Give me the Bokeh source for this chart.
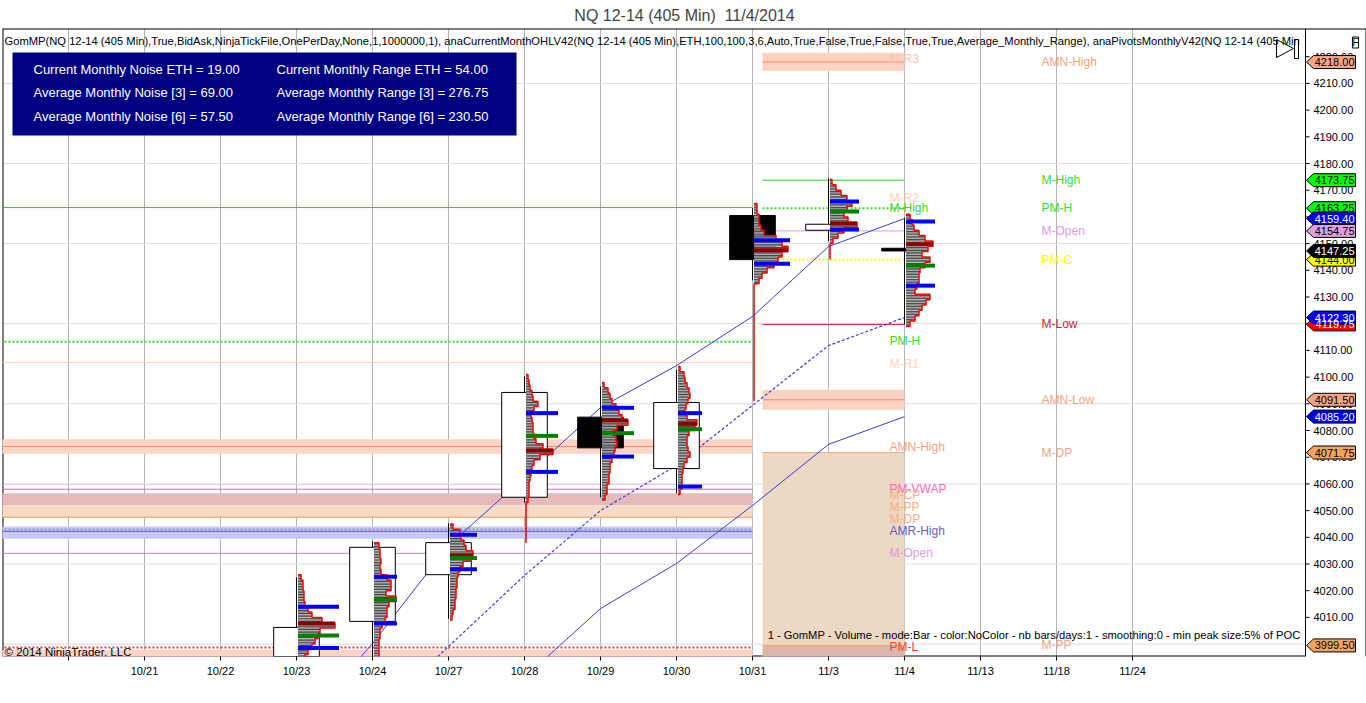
import math
from bokeh.plotting import figure
from bokeh.models import (FixedTicker, Label, NumeralTickFormatter, Range1d)
from bokeh.core.properties import value
from bokeh.embed import file_html
from bokeh.resources import INLINE

FONT = "Liberation Sans"

# ---------------- data ----------------
slot_labels = ["", "10/21", "10/22", "10/23", "10/24", "10/27", "10/28", "10/29",
               "10/30", "10/31", "11/3", "11/4", "11/13", "11/18", "11/24"]

bar_slot = [3, 4, 5, 6, 7, 8, 9, 10, 11]
bar_open = [3990.00, 4008.50, 4026.00, 4055.00, 4085.00, 4065.75, 4160.50, 4155.00, 4148.25]
bar_high = [4025.00, 4038.50, 4045.25, 4100.25, 4096.50, 4102.75, 4163.25, 4174.50, 4159.75]
bar_low = [3985.00, 3992.00, 4009.50, 4053.00, 4055.00, 4056.50, 4136.25, 4151.00, 4119.75]
bar_close = [4006.25, 4036.25, 4038.00, 4094.25, 4073.50, 4090.50, 4144.00, 4157.25, 4147.25]

price_ticks = list(range(4010, 4230, 10))
grid_prices = [4000, 4030, 4060, 4090, 4120, 4150, 4180, 4210]

# volume profiles (volume per 2-point level, starting at the given low price)
prof_step = 2.0
prof_1023_low = 3995
prof_1023 = [7, 10, 14, 17, 20, 22, 37, 24, 14, 10, 7, 6, 6, 5, 5, 3]
prof_1024_low = 3995
prof_1024 = [5, 5, 5, 5, 6, 6, 8, 11, 13, 13, 15, 22, 12, 17, 17, 13, 7, 6, 7, 6, 6, 5]
prof_1027_low = 4010
prof_1027 = [2, 3, 5, 5, 6, 6, 7, 7, 8, 10, 13, 21, 23, 16, 14, 11, 10, 3]
prof_1028_low = 4054
prof_1028 = [2, 3, 3, 3, 4, 5, 6, 8, 14, 27, 17, 10, 8, 7, 7, 6, 5, 8, 12, 7, 6, 4, 3, 2]
prof_1029_low = 4055
prof_1029 = [3, 5, 5, 7, 7, 8, 8, 10, 12, 13, 15, 14, 11, 15, 26, 20, 17, 14, 10, 8, 6, 2]
prof_1030_low = 4057
prof_1030 = [2, 4, 4, 4, 5, 6, 9, 12, 10, 9, 9, 11, 17, 19, 9, 7, 8, 10, 12, 11, 9, 7, 6, 2]
prof_1031_low = 4136
prof_1031 = [5, 8, 13, 20, 24, 28, 34, 28, 22, 10, 7, 5, 5, 3, 3]
prof_1103_low = 4151
prof_1103 = [3, 8, 14, 27, 18, 14, 17, 22, 17, 11, 6, 2]
prof_1104_low = 4120
prof_1104 = [4, 9, 13, 16, 20, 24, 9, 11, 13, 13, 14, 19, 24, 16, 22, 27, 19, 13, 8, 6, 4]

prof_slot = [3, 4, 5, 6, 7, 8, 9, 10, 11]
prof_lows = [prof_1023_low, prof_1024_low, prof_1027_low, prof_1028_low, prof_1029_low,
             prof_1030_low, prof_1031_low, prof_1103_low, prof_1104_low]
prof_vols = [prof_1023, prof_1024, prof_1027, prof_1028, prof_1029,
             prof_1030, prof_1031, prof_1103, prof_1104]
tail_slot = [6, 9, 10]
tail_low = [4038.0, 4091.0, 4144.0]

va_high = [4014.00, 4025.25, 4041.00, 4086.50, 4088.50, 4086.50, 4151.25, 4165.75, 4158.25]
va_low = [3998.50, 4007.75, 4028.00, 4064.50, 4070.25, 4059.00, 4142.50, 4155.25, 4134.25]
vwap = [4003.25, 4016.75, 4032.25, 4078.00, 4079.00, 4080.50, float("nan"), 4162.00, 4141.75]
poc = [4007.75, 4016.75, 4033.25, 4072.50, 4083.75, 4082.50, 4147.50, 4157.50, 4149.75]
marker_vol = [41, 23, 27, 32, 32, 24, 36, 29, 29]

# channel lines
ma_fast_slot = [3, 4, 5, 6, 7, 8, 9, 10, 11]
ma_fast = [3968.0, 4000.2, 4036.9, 4062.4, 4088.6, 4104.3, 4122.7, 4148.9, 4159.4]
ma_mid_slot = [4, 5, 6, 7, 8, 9, 10, 11]
ma_mid = [3972.0, 3999.1, 4025.7, 4050.0, 4066.9, 4089.4, 4111.8, 4122.3]
ma_slow_slot = [6, 7, 8, 9, 10, 11]
ma_slow = [3987.5, 4013.3, 4030.2, 4051.9, 4074.8, 4085.2]

# prior-month (October) levels
oct_line_price = [4163.50, 4113.25, 4105.50, 4074.00, 4059.75, 4058.00, 4047.50,
                  4043.00, 4042.25, 4034.00, 3998.75]
oct_band_low = [4071.25, 4052.00, 4047.50, 4039.50, 3993.00]
oct_band_high = [4076.75, 4056.50, 4052.00, 4044.00, 3997.75]
# current month (November) levels
nov_line_price = [4218.00, 4173.75, 4163.25, 4154.75, 4144.00, 4119.75, 4091.50, 4071.75, 3999.50]
nov_band_low = [4214.75, 4087.75, 3999.50, 3990.00]
nov_band_high = [4221.50, 4095.25, 4071.75, 3999.50]

label1_text = ["M-R3", "M-R2", "M-High", "PM-H", "M-R1", "AMN-High", "PM-VWAP", "M-CP",
               "M-PP", "M-DP", "AMR-High", "M-Open", "PM-L"]
label1_price = [4219.0, 4167.25, 4163.25, 4113.5, 4105.0, 4074.0, 4058.0, 4056.0,
                4051.5, 4047.0, 4042.25, 4034.0, 3998.75]
label2_text = ["AMN-High", "M-High", "PM-H", "M-Open", "PM-C", "M-Low", "AMN-Low", "M-DP", "M-PP"]
label2_price = [4218.0, 4173.75, 4163.25, 4154.75, 4144.0, 4119.75, 4091.5, 4071.75, 3999.5]

tag_price = [4218.00, 4173.75, 4163.25, 4159.40, 4154.75, 4144.00, 4147.25,
             4119.75, 4122.30, 4091.50, 4085.20, 4071.75, 3999.50]

info_rows = [("Current Monthly Noise ETH = 19.00", "Current Monthly Range ETH = 54.00"),
             ("Average Monthly Noise [3] = 69.00", "Average Monthly Range [3] = 276.75"),
             ("Average Monthly Noise [6] = 57.50", "Average Monthly Range [6] = 230.50")]

# ---------------- styles ----------------
oct_line_style = [("#22d022", "solid", 1), ("#33dd33", "2 2", 2), ("#f9d2b8", "solid", 1),
                  ("#f08c70", "solid", 1), ("#d9cdf2", "solid", 1), ("#c86ec8", "solid", 1),
                  ("#f0a050", "solid", 1), ("#a0a0a8", "2 2", 2), ("#5252e0", "solid", 1),
                  ("#b890c8", "solid", 1), ("#ff3b3b", "2 2", 2)]
oct_band_color = ["#fcd5c6", "#e6baba", "#f6dcc8", "#c9c9f7", "#fcd3c6"]
nov_line_style = [("#f08c70", "solid", 1), ("#22d022", "solid", 1), ("#33dd33", "2 2", 2),
                  ("#d8a0d8", "solid", 1), ("#ffff00", "2 2", 2), ("#dc143c", "solid", 1),
                  ("#f08c70", "solid", 1), ("#e6b48c", "solid", 1), ("#f4a460", "solid", 1)]
nov_band_color = ["#fcd2c2", "#fcd2c2", "#ecd8c4", "#ddb4aa"]
label1_color = ["#f9c4b0", "#fcd0b0", "#33dd33", "#33dd33", "#f9d4c0", "#f4a582", "#ff69b4",
                "#f4b080", "#f4b080", "#f4b080", "#6a5acd", "#d8a0d8", "#ff4020"]
label2_color = ["#f4a582", "#33dd33", "#33dd33", "#d8a0d8", "#ffff00", "#dc143c", "#f4a582",
                "#f4a582", "#f4a582"]
tag_fill = ["#f4a582", "#00ff00", "#00ff00", "#0000ff", "#dda0dd", "#ffff00", "#000000",
            "#ff0000", "#0000ff", "#f4a582", "#0000ff", "#f4a460", "#f4a460"]
tag_text = ["black", "black", "black", "white", "black", "black", "white",
            "white", "white", "black", "white", "black", "black"]


# ---------------- geometry helpers (reference pixels -> data) ----------------
def X(px):
    return (px - 68.0) / 76.0


def P(py):
    return 4180.0 - (py - 163.0) / 2.67


PXS = 1.0 / 76.0      # slot units per pixel
PTS = 1.0 / 2.67      # price per pixel
W, H = 1366, 703
AX = 1305             # price-axis line position (pixels)

p = figure(width=W, height=H, x_range=Range1d(X(2), X(W)),
           y_range=Range1d(P(656), P(28)), y_axis_location="right",
           output_backend="svg", toolbar_location=None,
           min_border_left=2, min_border_right=0, min_border_top=28, min_border_bottom=47,
           title="NQ 12-14 (405 Min)\u00a0 11/4/2014")
p.title.align = "center"
p.title.vertical_align = "top"
p.title.text_font = FONT
p.title.text_font_size = "16px"
p.title.text_font_style = "normal"
p.title.standoff = 6
p.title.offset = 0
p.outline_line_color = None
p.background_fill_color = "white"
p.border_fill_color = "white"

p.xgrid.ticker = FixedTicker(ticks=list(range(len(slot_labels))))
p.xgrid.grid_line_color = "#b4b4b4"
p.ygrid.grid_line_color = None

p.xaxis.ticker = FixedTicker(ticks=list(range(len(slot_labels))))
p.xaxis.major_label_overrides = {i: s for i, s in enumerate(slot_labels)}
p.xaxis.minor_tick_line_color = None
p.xaxis.major_tick_in = 0
p.xaxis.major_tick_out = 4
p.xaxis.axis_line_color = None
p.xaxis.major_tick_line_color = "black"
p.xaxis.major_label_text_font = FONT
p.xaxis.major_label_text_font_size = "11px"
p.xaxis.major_label_text_color = "black"
p.xaxis.major_label_standoff = 4

# price axis: labels pulled back into the chart so the price tags can cover them
p.yaxis.ticker = FixedTicker(ticks=price_ticks)
p.yaxis.formatter = NumeralTickFormatter(format="0.00")
p.yaxis.minor_tick_line_color = None
p.yaxis.major_tick_in = 0
p.yaxis.major_tick_out = 0
p.yaxis.axis_line_color = None
p.yaxis.major_tick_line_color = None
p.yaxis.major_label_text_font = FONT
p.yaxis.major_label_text_font_size = "11px"
p.yaxis.major_label_text_color = "black"
p.yaxis.major_label_standoff = -(W - (AX + 8))
p.yaxis.level = "underlay"

# horizontal grid, chart borders, axis lines and ticks
p.segment(x0=X(2), x1=X(AX), y0=grid_prices, y1=grid_prices, line_color="#dcdcdc", line_width=1)
p.segment(x0=[X(2), X(2), X(W), X(2), X(AX)],
          x1=[X(W), X(2), X(W), X(AX), X(AX)],
          y0=[P(28), P(28), P(28), P(656), P(656)],
          y1=[P(28), P(656), P(656), P(656), P(28)],
          line_color="black", line_width=[2, 2, 2, 2, 1])
p.segment(x0=X(AX), x1=X(AX + 4), y0=price_ticks, y1=price_ticks, line_color="black", line_width=1)

OCT_L, OCT_R = X(-40), X(752)
NOV_L, NOV_R = X(762), X(904)

# bands
p.quad(left=[OCT_L] * len(oct_band_low), right=[OCT_R] * len(oct_band_low),
       bottom=oct_band_low, top=oct_band_high, fill_color=oct_band_color, line_color=None)
p.quad(left=[NOV_L] * len(nov_band_low), right=[NOV_R] * len(nov_band_low),
       bottom=nov_band_low, top=nov_band_high, fill_color=nov_band_color, line_color=None)

for pr, (c, d, w) in zip(oct_line_price, oct_line_style):
    p.line([OCT_L, OCT_R], [pr, pr], line_color=c, line_dash=d, line_width=w)
for pr, (c, d, w) in zip(nov_line_price, nov_line_style):
    p.line([NOV_L, NOV_R], [pr, pr], line_color=c, line_dash=d, line_width=w)

# channel lines
p.line(ma_fast_slot, ma_fast, line_color="#3c3cd8", line_width=1)
p.line(ma_mid_slot, ma_mid, line_color="#3c3cd8", line_width=1.2, line_dash="3 2")
p.line(ma_slow_slot, ma_slow, line_color="#3c3cd8", line_width=1)

# candles
p.segment(x0=bar_slot, y0=bar_low, x1=bar_slot, y1=bar_high, line_color="black", line_width=1)
body_top = [max(o, c) for o, c in zip(bar_open, bar_close)]
body_bot = [min(o, c) for o, c in zip(bar_open, bar_close)]
body_fill = ["white" if c > o else "black" for o, c in zip(bar_open, bar_close)]
p.vbar(x=bar_slot, top=body_top, bottom=body_bot, width=0.6, fill_color=body_fill,
       line_color="black", line_width=1)

# profiles
bx, by, bw, sx, sy = [], [], [], [], []
oxs, oys = [], []
for slot, lo, vols in zip(prof_slot, prof_lows, prof_vols):
    base = slot + 1.5 * PXS
    xs_o, ys_o = [base], [lo - prof_step / 2]
    for k, v in enumerate(vols):
        lvl = lo + k * prof_step
        wv = v * PXS
        bx.append(base + wv / 2)
        by.append(lvl)
        bw.append(wv)
        for off in (-0.5, 0.5):
            sx.append(base + wv / 2)
            sy.append(lvl + off)
        xs_o += [base + wv, base + wv]
        ys_o += [lvl - prof_step / 2, lvl + prof_step / 2]
    xs_o.append(base)
    ys_o.append(lo + (len(vols) - 1) * prof_step + prof_step / 2)
    oxs.append(xs_o)
    oys.append(ys_o)

p.rect(x=bx, y=by, width=bw, height=prof_step, fill_color="#a8a8a8", line_color=None)
sw = [w for w in bw for _ in (0, 1)]
p.rect(x=sx, y=sy, width=sw, height=0.45, fill_color="#4a4a4a", line_color=None)
p.multi_line(xs=oxs, ys=oys, line_color="#ff0000", line_width=1.5)

# tails
tail_top = [prof_lows[prof_slot.index(s)] - prof_step / 2 for s in tail_slot]
p.segment(x0=[s + 1.5 * PXS for s in tail_slot], y0=tail_low,
          x1=[s + 1.5 * PXS for s in tail_slot], y1=tail_top, line_color="#e00000", line_width=1.5)

# POC / VWAP / value area markers
base_x = [s + 1.5 * PXS for s in prof_slot]
poc_end = [b + max(v) * PXS for b, v in zip(base_x, prof_vols)]
mk_end = [b + m * PXS for b, m in zip(base_x, marker_vol)]
p.segment(x0=base_x, y0=poc, x1=poc_end, y1=poc, line_color="#8b0000", line_width=4)
p.segment(x0=base_x, y0=vwap, x1=mk_end, y1=vwap, line_color="#008000", line_width=4)
p.segment(x0=base_x, y0=va_high, x1=mk_end, y1=va_high, line_color="#0000ff", line_width=4)
p.segment(x0=base_x, y0=va_low, x1=mk_end, y1=va_low, line_color="#0000ff", line_width=4)

# level labels
p.text(x=[X(889)] * len(label1_text), y=label1_price, text=label1_text,
       text_color=label1_color, text_font=value(FONT), text_font_size="12px",
       text_baseline="middle")
p.text(x=[X(1041)] * len(label2_text), y=label2_price, text=label2_text,
       text_color=label2_color, text_font=value(FONT), text_font_size="12px",
       text_baseline="middle")

# info box
p.quad(left=[X(12)], right=[X(516)], bottom=[P(135)], top=[P(52)],
       fill_color="#000080", line_color=None)
row_y = [P(69), P(92), P(116)]
p.text(x=[X(33)] * 3 + [X(276)] * 3, y=row_y + row_y,
       text=[r[0] for r in info_rows] + [r[1] for r in info_rows],
       text_color="white", text_font=value(FONT), text_font_size="13px",
       text_baseline="middle")

# indicator caption, copyright, profile caption
p.add_layout(Label(x=X(4), y=P(40),
                   text="GomMP(NQ 12-14 (405 Min),True,BidAsk,NinjaTickFile,OnePerDay,None,1,1000000,1), "
                        "anaCurrentMonthOHLV42(NQ 12-14 (405 Min),ETH,100,100,3,6,Auto,True,False,True,False,"
                        "True,True,Average_Monthly_Range), anaPivotsMonthlyV42(NQ 12-14 (405 Min",
                   text_color="black", text_font=FONT, text_font_size="11.2px",
                   text_baseline="middle"))
p.add_layout(Label(x=X(4), y=P(651), text="\u00a9 2014 NinjaTrader, LLC", text_color="black",
                   text_font=FONT, text_font_size="11.5px", text_baseline="middle"))
p.add_layout(Label(x=X(1300), y=P(634),
                   text="1 - GomMP - Volume - mode:Bar - color:NoColor - nb bars/days:1 - "
                        "smoothing:0 - min peak size:5% of POC",
                   text_color="black", text_font=FONT, text_font_size="11.2px",
                   text_baseline="middle", text_align="right"))

# price tags on the axis
h = 6.5 * PTS
tag_xs = [[X(AX + 1), X(AX + 8), X(1355), X(1355), X(AX + 8)] for _ in tag_price]
tag_ys = [[pr, pr + h, pr + h, pr - h, pr - h] for pr in tag_price]
p.patches(xs=tag_xs, ys=tag_ys, fill_color=tag_fill, line_color="black", line_width=1)
p.text(x=[X(1354)] * len(tag_price), y=tag_price, text=["%.2f" % v for v in tag_price],
       text_color=tag_text, text_font=value(FONT), text_font_size="11px",
       text_align="right", text_baseline="middle")

# "go to last bar" icon and "F" box
p.patch(x=[X(1276), X(1293), X(1276)], y=[P(39), P(48), P(57)],
        fill_color="white", line_color="black", line_width=1)
p.quad(left=[X(1294)], right=[X(1298)], top=[P(39)], bottom=[P(58)],
       fill_color="white", line_color="black", line_width=1)
p.add_layout(Label(x=X(1355), y=P(42), text="F", text_align="center", text_baseline="middle",
                   text_color="black", text_font=FONT, text_font_size="10px",
                   border_line_color="black", background_fill_color="white"))

open("out.html", "w").write(file_html(p, INLINE))
